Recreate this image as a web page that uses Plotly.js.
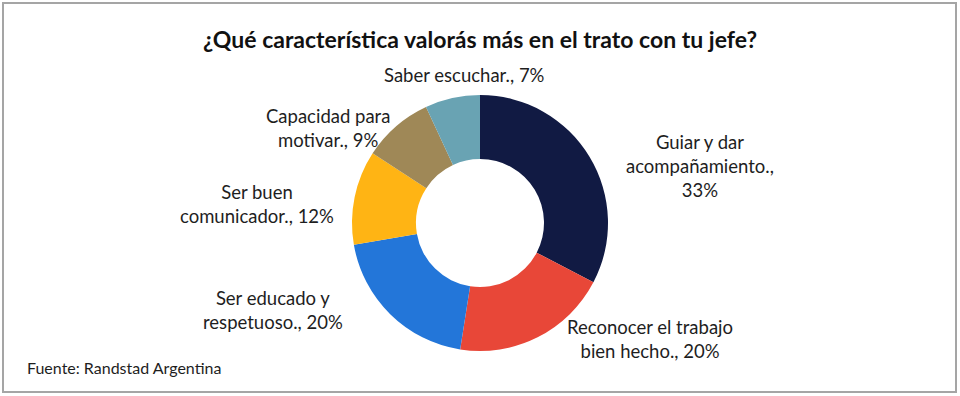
<!DOCTYPE html>
<html>
<head>
<meta charset="utf-8">
<script src="https://cdn.plot.ly/plotly-3.0.1.min.js"></script>
<style>
  html, body { margin: 0; padding: 0; background: #fff; }
  #wrap { position: relative; width: 960px; height: 396px; }
  #chart { position: absolute; left: 0; top: 0; width: 960px; height: 396px; }
  #frame { position: absolute; left: 2px; top: 2px; width: 951px; height: 387px;
           border: 2px solid #A5A5A5; pointer-events: none; }
</style>
</head>
<body>
<div id="wrap">
  <div id="chart"></div>
  <div id="frame"></div>
</div>
<script>
// Data
const categories = [
  "Guiar y dar acompañamiento.",
  "Reconocer el trabajo bien hecho.",
  "Ser educado y respetuoso.",
  "Ser buen comunicador.",
  "Capacidad para motivar.",
  "Saber escuchar."
];
const values = [33, 20, 20, 12, 9, 7];
// Label line breaks as in the reference
const labelText = [
  "Guiar y dar<br>acompañamiento.,<br>33%",
  "Reconocer el trabajo<br>bien hecho., 20%",
  "Ser educado y<br>respetuoso., 20%",
  "Ser buen<br>comunicador., 12%",
  "Capacidad para<br>motivar., 9%",
  "Saber escuchar., 7%"
];

// Styles / layout (not data)
const colors = ["#111A43", "#E84738", "#2376D9", "#FFB414", "#9F8857", "#69A3B3"];
const labelPos = [
  [700, 166], [650, 339], [273, 310], [257, 204], [328, 128], [464, 75]
];
const W = 960, H = 396;
const font = "Lato, 'Open Sans', sans-serif";

const annotations = labelText.map((t, i) => ({
  text: t,
  x: labelPos[i][0] / W,
  y: 1 - labelPos[i][1] / H,
  xref: "paper", yref: "paper",
  xanchor: "center", yanchor: "middle",
  align: "center",
  showarrow: false,
  font: { family: font, size: 18.5, color: "#1E1E1E" }
}));

annotations.push({
  text: "Fuente: Randstad Argentina",
  x: 25 / W, y: 1 - 367 / H,
  xref: "paper", yref: "paper",
  xanchor: "left", yanchor: "middle",
  showarrow: false,
  font: { family: font, size: 16, color: "#1E1E1E" }
});

const trace = {
  type: "pie",
  labels: categories,
  values: values,
  hole: 0.5,
  sort: false,
  direction: "clockwise",
  rotation: 0,
  textinfo: "none",
  hoverinfo: "label+percent",
  marker: { colors: colors, line: { color: "#ffffff", width: 0 } },
  domain: { x: [352 / W, 608 / W], y: [(H - 351) / H, (H - 95) / H] },
  showlegend: false
};

const layout = {
  width: W, height: H,
  margin: { l: 0, r: 0, t: 0, b: 0 },
  paper_bgcolor: "#ffffff",
  title: {
    text: "<b>¿Qué característica valorás más en el trato con tu jefe?</b>",
    x: 0.5, xanchor: "center",
    y: 1 - 40 / H, yanchor: "middle",
    font: { family: font, size: 23, color: "#111111" }
  },
  annotations: annotations,
  showlegend: false
};

Plotly.newPlot("chart", [trace], layout, { displayModeBar: false, staticPlot: true });
</script>
</body>
</html>
